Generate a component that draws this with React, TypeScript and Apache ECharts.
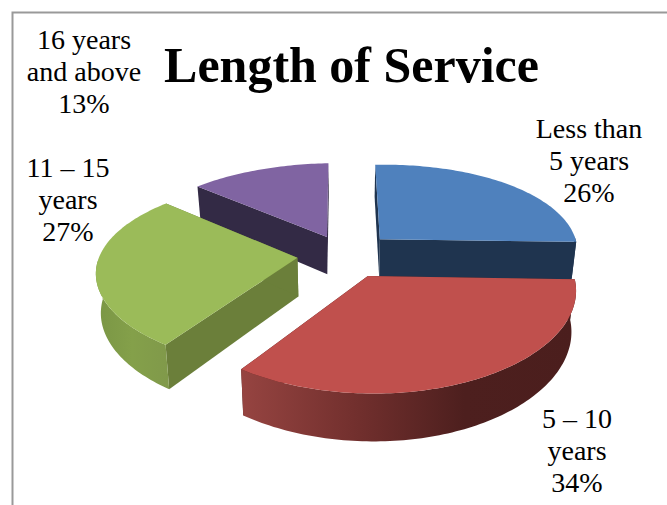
import React, { useEffect, useRef } from "react";
import * as echarts from "echarts";

// Share of staff per length-of-service band, in percent.
const categories = ["Less than\n5 years", "5 – 10\nyears", "11 – 15\nyears", "16 years\nand above"];
const shares = [26, 34, 27, 13];
const chartTitle = "Length of Service";

// Slice colours: top face, radial walls, and the gradient along the outer rim.
const topColors = ["#4f81bd", "#c0504d", "#9bbb59", "#8064a2"];
const wallColors = ["#1f344f", "#4d1f1e", "#6b7f3a", "#332a45"];
const rimStops = [
  ["#1f344f", "#1f344f"],
  ["#964441", "#73302e", "#4d1f1e", "#4b1e1d"],
  ["#7a9645", "#84a04a", "#80994a"],
  ["#332a45", "#332a45"],
];

// Slices further from the viewer are painted first so nearer ones cover them.
const paintOrder = [3, 0, 2, 1];

// How far each slice is pulled out from the centre, as a share of the radius.
const explode = [0.25, 0.25, 0.24, 0.225];

// Label anchor points beside each slice.
const labelCentres = [
  [589, 160],
  [577, 450],
  [68, 199],
  [84, 71.5],
];

const FONT = '"Liberation Serif", serif';
const CX = 345;
const CY = 255;
const RADIUS_X = 199;
const RADIUS_Y = 91;
const PERSPECTIVE_X = 0.13;
const PERSPECTIVE_Y = 0.16;
const DEPTH = 38.5;
const DEPTH_SHRINK = 0.98;
// Small camera skew: the near edge leans right and the right side rises.
const SKEW_LINEAR = 4;
const SKEW_CURVE = 2.5;
const ROLL = 3;

type Pt = [number, number];

// Ground-plane point to screen point, at the top face (lower=false) or the base.
function project(gx: number, gy: number, lower: boolean): Pt {
  const sx = 1 / (1 + PERSPECTIVE_X * gy);
  const sy = 1 / (1 + PERSPECTIVE_Y * gy);
  const x = RADIUS_X * gx * sx - SKEW_LINEAR * gy + SKEW_CURVE * gy * gy;
  const y = CY - RADIUS_Y * gy * sy - ROLL * gx;
  return lower ? [CX + x * DEPTH_SHRINK, y + DEPTH * sy] : [CX + x, y];
}

function sliceGeometry(index: number) {
  const total = shares.reduce((a, b) => a + b, 0);
  const before = shares.slice(0, index).reduce((a, b) => a + b, 0);
  const start = (before / total) * Math.PI * 2;
  const end = ((before + shares[index]) / total) * Math.PI * 2;
  const mid = (start + end) / 2;
  const ox = Math.sin(mid) * explode[index];
  const oy = Math.cos(mid) * explode[index];
  const onRim = (a: number): Pt => [ox + Math.sin(a), oy + Math.cos(a)];
  return { start, end, ox, oy, onRim };
}

function arcPoints(onRim: (a: number) => Pt, from: number, to: number, lower: boolean): Pt[] {
  const pts: Pt[] = [];
  const steps = Math.max(2, Math.ceil(Math.abs(to - from) / 0.02));
  for (let i = 0; i <= steps; i++) {
    const [gx, gy] = onRim(from + ((to - from) * i) / steps);
    pts.push(project(gx, gy, lower));
  }
  return pts;
}

function renderSlice(_params: any, api: any) {
  const index = api.value(0) as number;
  const { start, end, ox, oy, onRim } = sliceGeometry(index);
  const wall = (a: number) => {
    const [gx, gy] = onRim(a);
    return {
      type: "polygon",
      shape: {
        points: [project(ox, oy, false), project(gx, gy, false), project(gx, gy, true), project(ox, oy, true)],
      },
      style: { fill: wallColors[index] },
    };
  };
  const children: any[] = [wall(start), wall(end)];

  // Only the part of the rim facing the viewer is visible.
  const rimFrom = Math.max(start, Math.PI / 2);
  const rimTo = Math.min(end, (Math.PI * 3) / 2);
  if (rimTo > rimFrom) {
    const stops = rimStops[index];
    children.push({
      type: "polygon",
      shape: {
        points: [...arcPoints(onRim, rimFrom, rimTo, false), ...arcPoints(onRim, rimTo, rimFrom, true)],
      },
      style: {
        fill: {
          type: "linear",
          x: 0,
          y: 0,
          x2: 1,
          y2: 0,
          colorStops: stops.map((color, i) => ({ offset: i / (stops.length - 1), color })),
        },
      },
    });
  }

  children.push({
    type: "polygon",
    shape: { points: [project(ox, oy, false), ...arcPoints(onRim, start, end, false)] },
    style: { fill: topColors[index] },
  });
  return { type: "group", children };
}

export default function App() {
  const ref = useRef<HTMLDivElement>(null);

  useEffect(() => {
    const chart = echarts.init(ref.current!, null, { renderer: "svg" });
    chart.setOption({
      animation: false,
      title: {
        text: chartTitle,
        left: 346.5,
        top: 35,
        textAlign: "center",
        textStyle: { fontFamily: FONT, fontWeight: "bold", fontSize: 50, color: "#000" },
      },
      graphic: [
        // Frame of the chart area: only its top and left edges are in view.
        {
          type: "polyline",
          shape: { points: [[12.5, 505], [12.5, 12.5], [667, 12.5]] },
          style: { stroke: "#999999", lineWidth: 2, fill: "none" },
        },
        ...categories.map((name, i) => ({
          type: "text",
          x: labelCentres[i][0],
          y: labelCentres[i][1],
          style: {
            text: `${name}\n${shares[i]}%`,
            fontFamily: FONT,
            fontSize: 28,
            lineHeight: 32,
            fill: "#000",
            align: "center",
            verticalAlign: "middle",
          },
        })),
      ],
      series: [
        {
          type: "custom",
          coordinateSystem: "none",
          renderItem: renderSlice,
          data: paintOrder.map((i) => [i]),
          silent: true,
        },
      ],
    });
    return () => chart.dispose();
  }, []);

  return <div ref={ref} style={{ width: 667, height: 505, position: "absolute", left: 0, top: 0 }} />;
}
